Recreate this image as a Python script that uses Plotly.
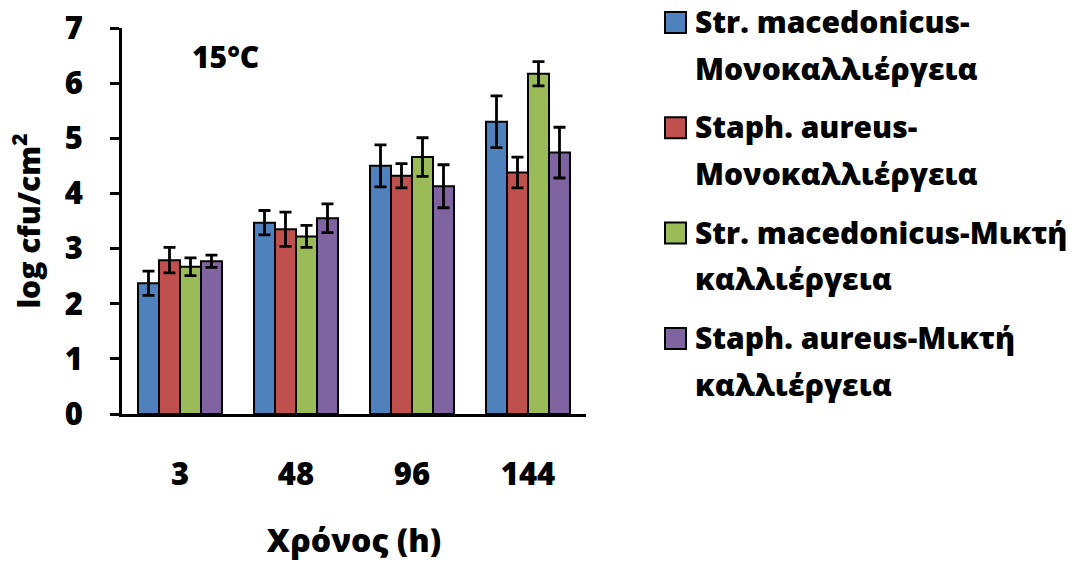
import plotly.graph_objects as go

# Sampling times (h) and mean counts (log cfu/cm2) with standard deviations
times = ["3", "48", "96", "144"]

series_names = [
    "Str. macedonicus-Μονοκαλλιέργεια",
    "Staph. aureus-Μονοκαλλιέργεια",
    "Str. macedonicus-Μικτή καλλιέργεια",
    "Staph. aureus-Μικτή καλλιέργεια",
]
legend_lines = [
    ("Str. macedonicus-", "Μονοκαλλιέργεια"),
    ("Staph. aureus-", "Μονοκαλλιέργεια"),
    ("Str. macedonicus-Μικτή", "καλλιέργεια"),
    ("Staph. aureus-Μικτή", "καλλιέργεια"),
]

str_mono = [2.37, 3.47, 4.50, 5.30]
str_mono_sd = [0.22, 0.22, 0.38, 0.47]

staph_mono = [2.79, 3.35, 4.32, 4.38]
staph_mono_sd = [0.23, 0.31, 0.22, 0.28]

str_mixed = [2.67, 3.22, 4.66, 6.17]
str_mixed_sd = [0.16, 0.20, 0.35, 0.22]

staph_mixed = [2.77, 3.55, 4.13, 4.74]
staph_mixed_sd = [0.11, 0.26, 0.39, 0.46]

values = [str_mono, staph_mono, str_mixed, staph_mixed]
errors = [str_mono_sd, staph_mono_sd, str_mixed_sd, staph_mixed_sd]
colors = ["#4F81BD", "#C0504D", "#9BBB59", "#8064A2"]

FONT = "Open Sans"
WEIGHT = 800
W, H = 1069, 561
L, R, T, B = 122, 483, 28, 147
PW, PH = W - L - R, H - T - B


def px_x(x):
    return (x - L) / PW


def px_y(y):
    return 1 - (y - T) / PH


def bold(size):
    return dict(family=FONT, size=size, color="black", weight=WEIGHT)


fig = go.Figure()
for name, v, e, c in zip(series_names, values, errors, colors):
    fig.add_trace(go.Bar(
        x=times, y=v, name=name,
        marker=dict(color=c, line=dict(color="black", width=2)),
        error_y=dict(type="data", array=e, visible=True,
                     color="black", thickness=2.8, width=6),
        showlegend=False,
    ))

# Legend drawn as swatches plus two-line labels
shapes = []
annotations = []
for i, ((l1, l2), c) in enumerate(zip(legend_lines, colors)):
    top = 12 + i * 105.3
    shapes.append(dict(
        type="rect", xref="paper", yref="paper",
        x0=px_x(665), x1=px_x(686), y0=px_y(top), y1=px_y(top + 21),
        fillcolor=c, line=dict(color="black", width=2),
    ))
    for j, txt in enumerate((l1, l2)):
        annotations.append(dict(
            text=txt, xref="paper", yref="paper",
            x=px_x(693), y=px_y(top + 9.5 + j * 46.7),
            xanchor="left", yanchor="middle", showarrow=False,
            font=bold(30),
        ))

annotations.append(dict(
    text="15°C", xref="paper", yref="paper",
    x=px_x(225), y=px_y(56), xanchor="center", yanchor="middle",
    showarrow=False, font=bold(30),
))

fig.update_layout(
    width=W, height=H,
    margin=dict(l=L, r=R, t=T, b=B, pad=0, autoexpand=False),
    paper_bgcolor="white", plot_bgcolor="white",
    barmode="group", bargap=0.276, bargroupgap=0,
    font=dict(family=FONT, color="black"),
    shapes=shapes, annotations=annotations,
    xaxis=dict(
        type="category", showline=True, linecolor="black", linewidth=3,
        ticks="", showgrid=False, zeroline=False, automargin=False,
        tickfont=bold(31),
        ticklabelstandoff=31,
        title=dict(text="Χρόνος (h)", standoff=38, font=bold(32)),
    ),
    yaxis=dict(
        range=[0, 7], dtick=1, showline=True, linecolor="black", linewidth=3,
        ticks="outside", ticklen=9, tickwidth=2.5, tickcolor="black",
        showgrid=False, zeroline=False, automargin=False,
        tickfont=bold(31),
        ticklabelstandoff=21,
        title=dict(text="log cfu/cm<sup>2</sup>", standoff=16, font=bold(30)),
    ),
)

fig.write_html("out.html")
